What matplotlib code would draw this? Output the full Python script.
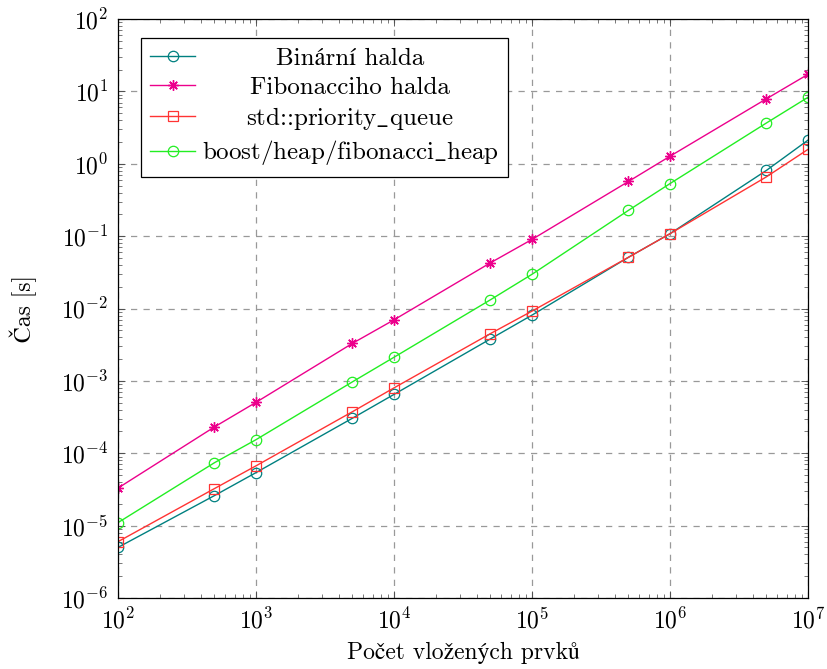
import numpy as np
import matplotlib
matplotlib.use('Agg')
import matplotlib.pyplot as plt
from matplotlib.transforms import Affine2D
from matplotlib.ticker import LogLocator, NullFormatter

plt.rcParams['font.family'] = ['cmr10', 'STIXGeneral']
plt.rcParams['mathtext.fontset'] = 'cm'
plt.rcParams['axes.formatter.use_mathtext'] = True

# data
n_items = [1e2, 5e2, 1e3, 5e3, 1e4, 5e4, 1e5, 5e5, 1e6, 5e6, 1e7]
binary_heap = [5.0e-6, 2.6e-5, 5.4e-5, 3.05e-4, 6.5e-4, 3.8e-3, 8.1e-3, 5.1e-2, 0.108, 0.81, 2.12]
fibonacci_heap = [3.3e-5, 2.31e-4, 5.05e-4, 3.3e-3, 6.97e-3, 4.28e-2, 9.0e-2, 0.569, 1.27, 7.9, 17.2]
std_pq = [6.0e-6, 3.25e-5, 6.7e-5, 3.75e-4, 8.0e-4, 4.5e-3, 9.2e-3, 5.1e-2, 0.108, 0.66, 1.58]
boost_fib = [1.1e-5, 7.4e-5, 1.54e-4, 9.7e-4, 2.12e-3, 1.32e-2, 2.97e-2, 0.227, 0.532, 3.66, 8.28]

labels = ['Binární halda', 'Fibonacciho halda', r'std::priority$\_$queue', r'boost/heap/fibonacci$\_$heap']

fig = plt.figure(figsize=(8.27, 6.69), dpi=100)
ax = fig.add_axes([118 / 827, 1 - 598 / 669, 690 / 827, 579 / 669])

ax.plot(n_items, binary_heap, color='#008080', lw=1.0, marker='o', ms=7.5, mfc='none', mew=0.9, label=labels[0])
ax.plot(n_items, fibonacci_heap, color='#ec008c', lw=1.0, marker=(8, 2, 0), ms=7.5, mew=1.0, label=labels[1])
ax.plot(n_items, std_pq, color='#ff3333', lw=1.0, marker='s', ms=7.5, mfc='none', mew=0.9, label=labels[2])
ax.plot(n_items, boost_fib, color='#22ee22', lw=1.0, marker='o', ms=7.5, mfc='none', mew=0.9, label=labels[3])

ax.set_xscale('log')
ax.set_yscale('log')
ax.set_xlim(1e2, 1e7)
ax.set_ylim(1e-6, 1e2)
ax.xaxis.set_major_locator(LogLocator(base=10, numticks=20))
ax.yaxis.set_major_locator(LogLocator(base=10, numticks=20))
ax.xaxis.set_minor_locator(LogLocator(base=10, subs=np.arange(2, 10), numticks=20))
ax.yaxis.set_minor_locator(LogLocator(base=10, subs=np.arange(2, 10), numticks=20))
ax.xaxis.set_minor_formatter(NullFormatter())
ax.yaxis.set_minor_formatter(NullFormatter())

ax.tick_params(which='both', direction='in', top=True, right=True, labelsize=17, color='#444444')
ax.tick_params(which='major', length=5, width=0.6, pad=7)
ax.tick_params(which='minor', length=3, width=0.5)
ax.grid(True, which='major', linestyle=(0, (5, 5)), color='#999999', lw=0.9)
for s in ax.spines.values():
    s.set_linewidth(0.9)

ax.set_xlabel('Počet vložených prvků', fontsize=17)
ax.set_ylabel('Čas [s]', fontsize=17)
ax.xaxis.set_label_coords(0.5, -0.076)
ax.yaxis.set_label_coords(-0.117, 0.5)

leg = ax.legend(loc='upper left', bbox_to_anchor=(0.0333, 0.967), fontsize=18, frameon=True,
                fancybox=False, framealpha=1, edgecolor='black', handlelength=1.8,
                labelspacing=0.25, borderpad=0.38, handletextpad=0.25, borderaxespad=0)
leg.get_frame().set_linewidth(0.9)

# centre the legend texts like pgfplots does
fig.canvas.draw()
renderer = fig.canvas.get_renderer()
widths = [t.get_window_extent(renderer).width for t in leg.get_texts()]
wmax = max(widths)
for t, w in zip(leg.get_texts(), widths):
    t.set_transform(t.get_transform() + Affine2D().translate((wmax - w) / 2, 0))

fig.savefig('out.png', dpi=100)
